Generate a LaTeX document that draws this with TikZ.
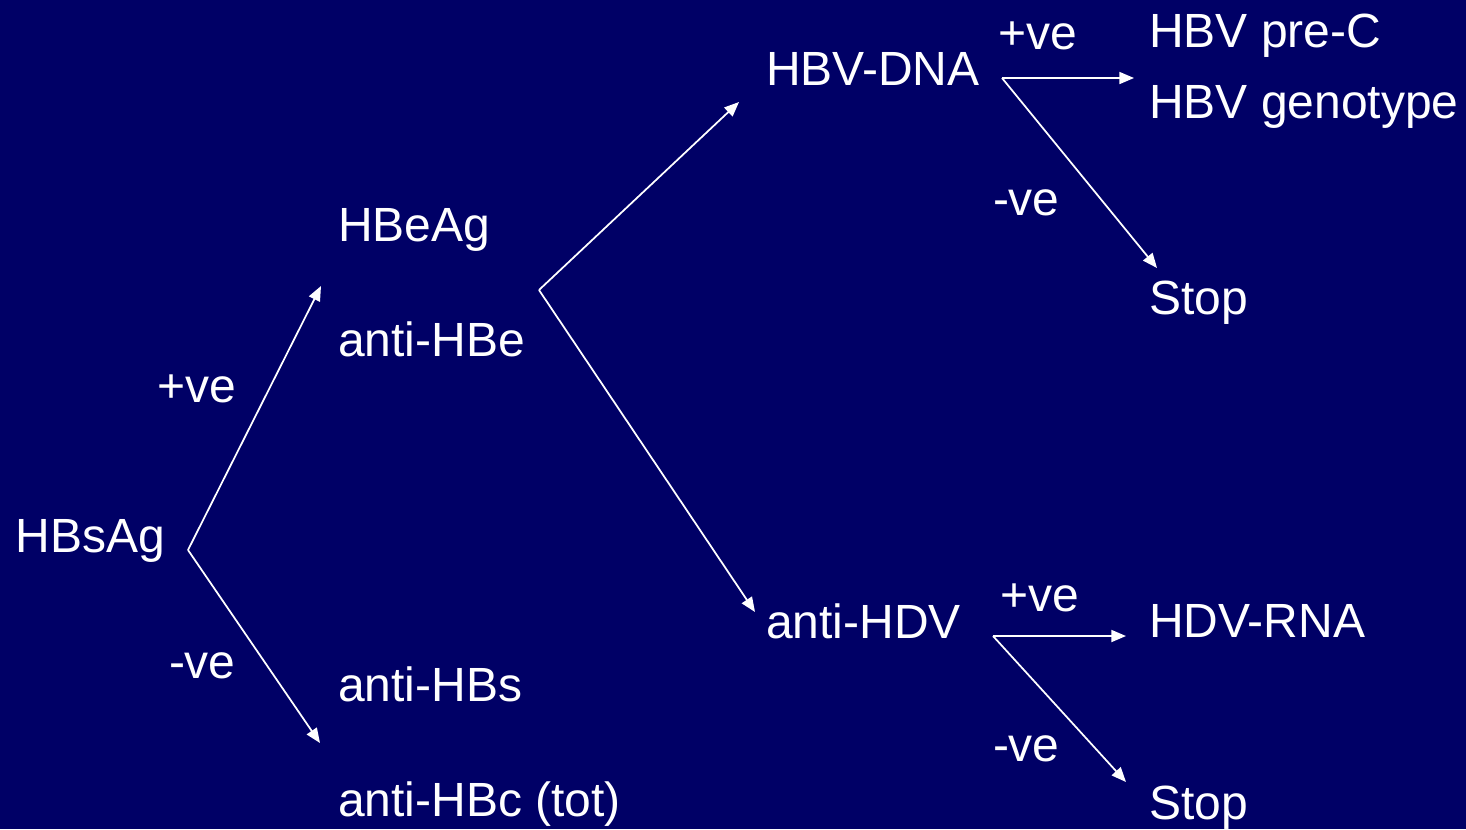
\documentclass[tikz,border=0pt]{standalone}
\usepackage{fontspec}
\setmainfont{Liberation Sans}
\usetikzlibrary{arrows.meta}
\definecolor{bg}{HTML}{000066}
\begin{document}
\begin{tikzpicture}[x=0.75pt,y=-0.75pt,
  lbl/.style={anchor=base west,inner sep=0pt,outer sep=0pt,text=white,font=\fontsize{36pt}{40pt}\selectfont},
  conn/.style={draw=white,line width=1.3pt,-{Triangle[length=11pt,width=9pt]}}]
\fill[bg] (0,0) rectangle (1466,829);
\useasboundingbox (0,0) rectangle (1466,829);
% nodes
\node[lbl] (hbsag) at (16,552) {HBsAg};
\node[lbl] (pos1) at (157,402) {+ve};
\node[lbl] (neg1) at (169,678) {-ve};
\node[lbl] (hbeag) at (338,241) {HBeAg};
\node[lbl] (antihbe) at (338,356) {anti-HBe};
\node[lbl] (antihbs) at (338,701) {anti-HBs};
\node[lbl] (antihbc) at (338,816) {anti-HBc (tot)};
\node[lbl] (hbvdna) at (766,85) {HBV-DNA};
\node[lbl] (antihdv) at (766,638) {anti-HDV};
\node[lbl] (pos2) at (998,49) {+ve};
\node[lbl] (neg2) at (993,215) {-ve};
\node[lbl] (precore) at (1149,47) {HBV pre-C};
\node[lbl] (genotype) at (1149,118) {HBV genotype};
\node[lbl] (stop1) at (1149,314) {Stop};
\node[lbl] (pos3) at (1000,611) {+ve};
\node[lbl] (neg3) at (993,761) {-ve};
\node[lbl] (hdvrna) at (1149,637) {HDV-RNA};
\node[lbl] (stop2) at (1149,819) {Stop};
% branch points and arrow ends
\coordinate (b1) at (188,550);
\coordinate (e1a) at (321,286);
\coordinate (e1b) at (320,743);
\coordinate (b2) at (539,290);
\coordinate (e2a) at (739,102);
\coordinate (e2b) at (755,612);
\coordinate (b3) at (1002,78);
\coordinate (e3a) at (1134,78);
\coordinate (e3b) at (1157,268);
\coordinate (b4) at (993,636);
\coordinate (e4a) at (1126,636);
\coordinate (e4b) at (1126,782);
% connectors
\draw[conn] (b1) -- (e1a);
\draw[conn] (b1) -- (e1b);
\draw[conn] (b2) -- (e2a);
\draw[conn] (b2) -- (e2b);
\draw[conn] (b3) -- (e3a);
\draw[conn] (b3) -- (e3b);
\draw[conn] (b4) -- (e4a);
\draw[conn] (b4) -- (e4b);
\end{tikzpicture}
\end{document}
